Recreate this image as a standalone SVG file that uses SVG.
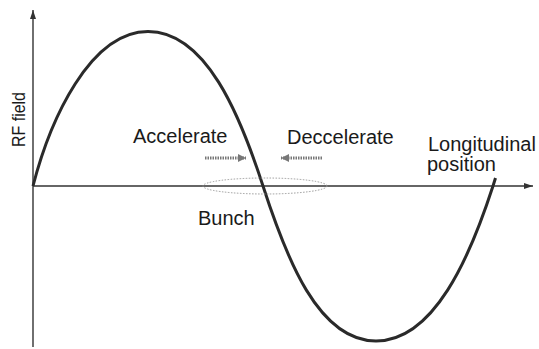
<svg xmlns="http://www.w3.org/2000/svg" width="539" height="349" viewBox="0 0 539 349">
<style>
text{font-family:"Liberation Sans",Arial,sans-serif;font-size:20px;fill:#1a1a1a}
.axis{stroke:#333;stroke-width:1.4;fill:none}
.wave{stroke:#2a2a2a;stroke-width:3;fill:none}
.move{stroke:#777;stroke-width:3;stroke-dasharray:1.5 1;fill:none}
.bunch{stroke:#999;stroke-width:1;stroke-dasharray:1.5 1.5;fill:none}
</style>
<defs>
<marker id="ah" markerWidth="10" markerHeight="8" refX="9" refY="4" orient="auto" markerUnits="userSpaceOnUse">
<path d="M0,1 L9,4 L0,7 Z" fill="#333"/>
</marker>
<marker id="mh" markerWidth="10" markerHeight="10" refX="8" refY="5" orient="auto" markerUnits="userSpaceOnUse">
<path d="M0,1 L8,5 L0,9 Z" fill="#777"/>
</marker>
</defs>
<g id="connectors">
<line class="axis" x1="33" y1="347" x2="33" y2="10" marker-end="url(#ah)"/>
<line class="axis" x1="33" y1="186" x2="533" y2="186" marker-end="url(#ah)"/>
<path class="wave" d="M33,186 C50,120 90,31.5 148,31.5 C206,31.5 240,115 263,186 C286,257 318,341 376,341 C434,341 470,257 493,186 L495.5,178"/>
<line class="move" x1="205" y1="158" x2="246" y2="158" marker-end="url(#mh)"/>
<line class="move" x1="322" y1="158" x2="281" y2="158" marker-end="url(#mh)"/>
</g>
<g id="bunch">
<ellipse class="bunch" cx="265" cy="186" rx="62" ry="8"/>
<text x="198" y="225">Bunch</text>
</g>
<g id="axis-y-label">
<text transform="translate(25,147) rotate(-90)" style="font-size:19px" textLength="55" lengthAdjust="spacingAndGlyphs">RF field</text>
</g>
<g id="accelerate"><text x="133" y="143">Accelerate</text></g>
<g id="deccelerate"><text x="287" y="144">Deccelerate</text></g>
<g id="axis-x-label">
<text x="428" y="151">Longitudinal</text>
<text x="427" y="171">position</text>
</g>
</svg>
